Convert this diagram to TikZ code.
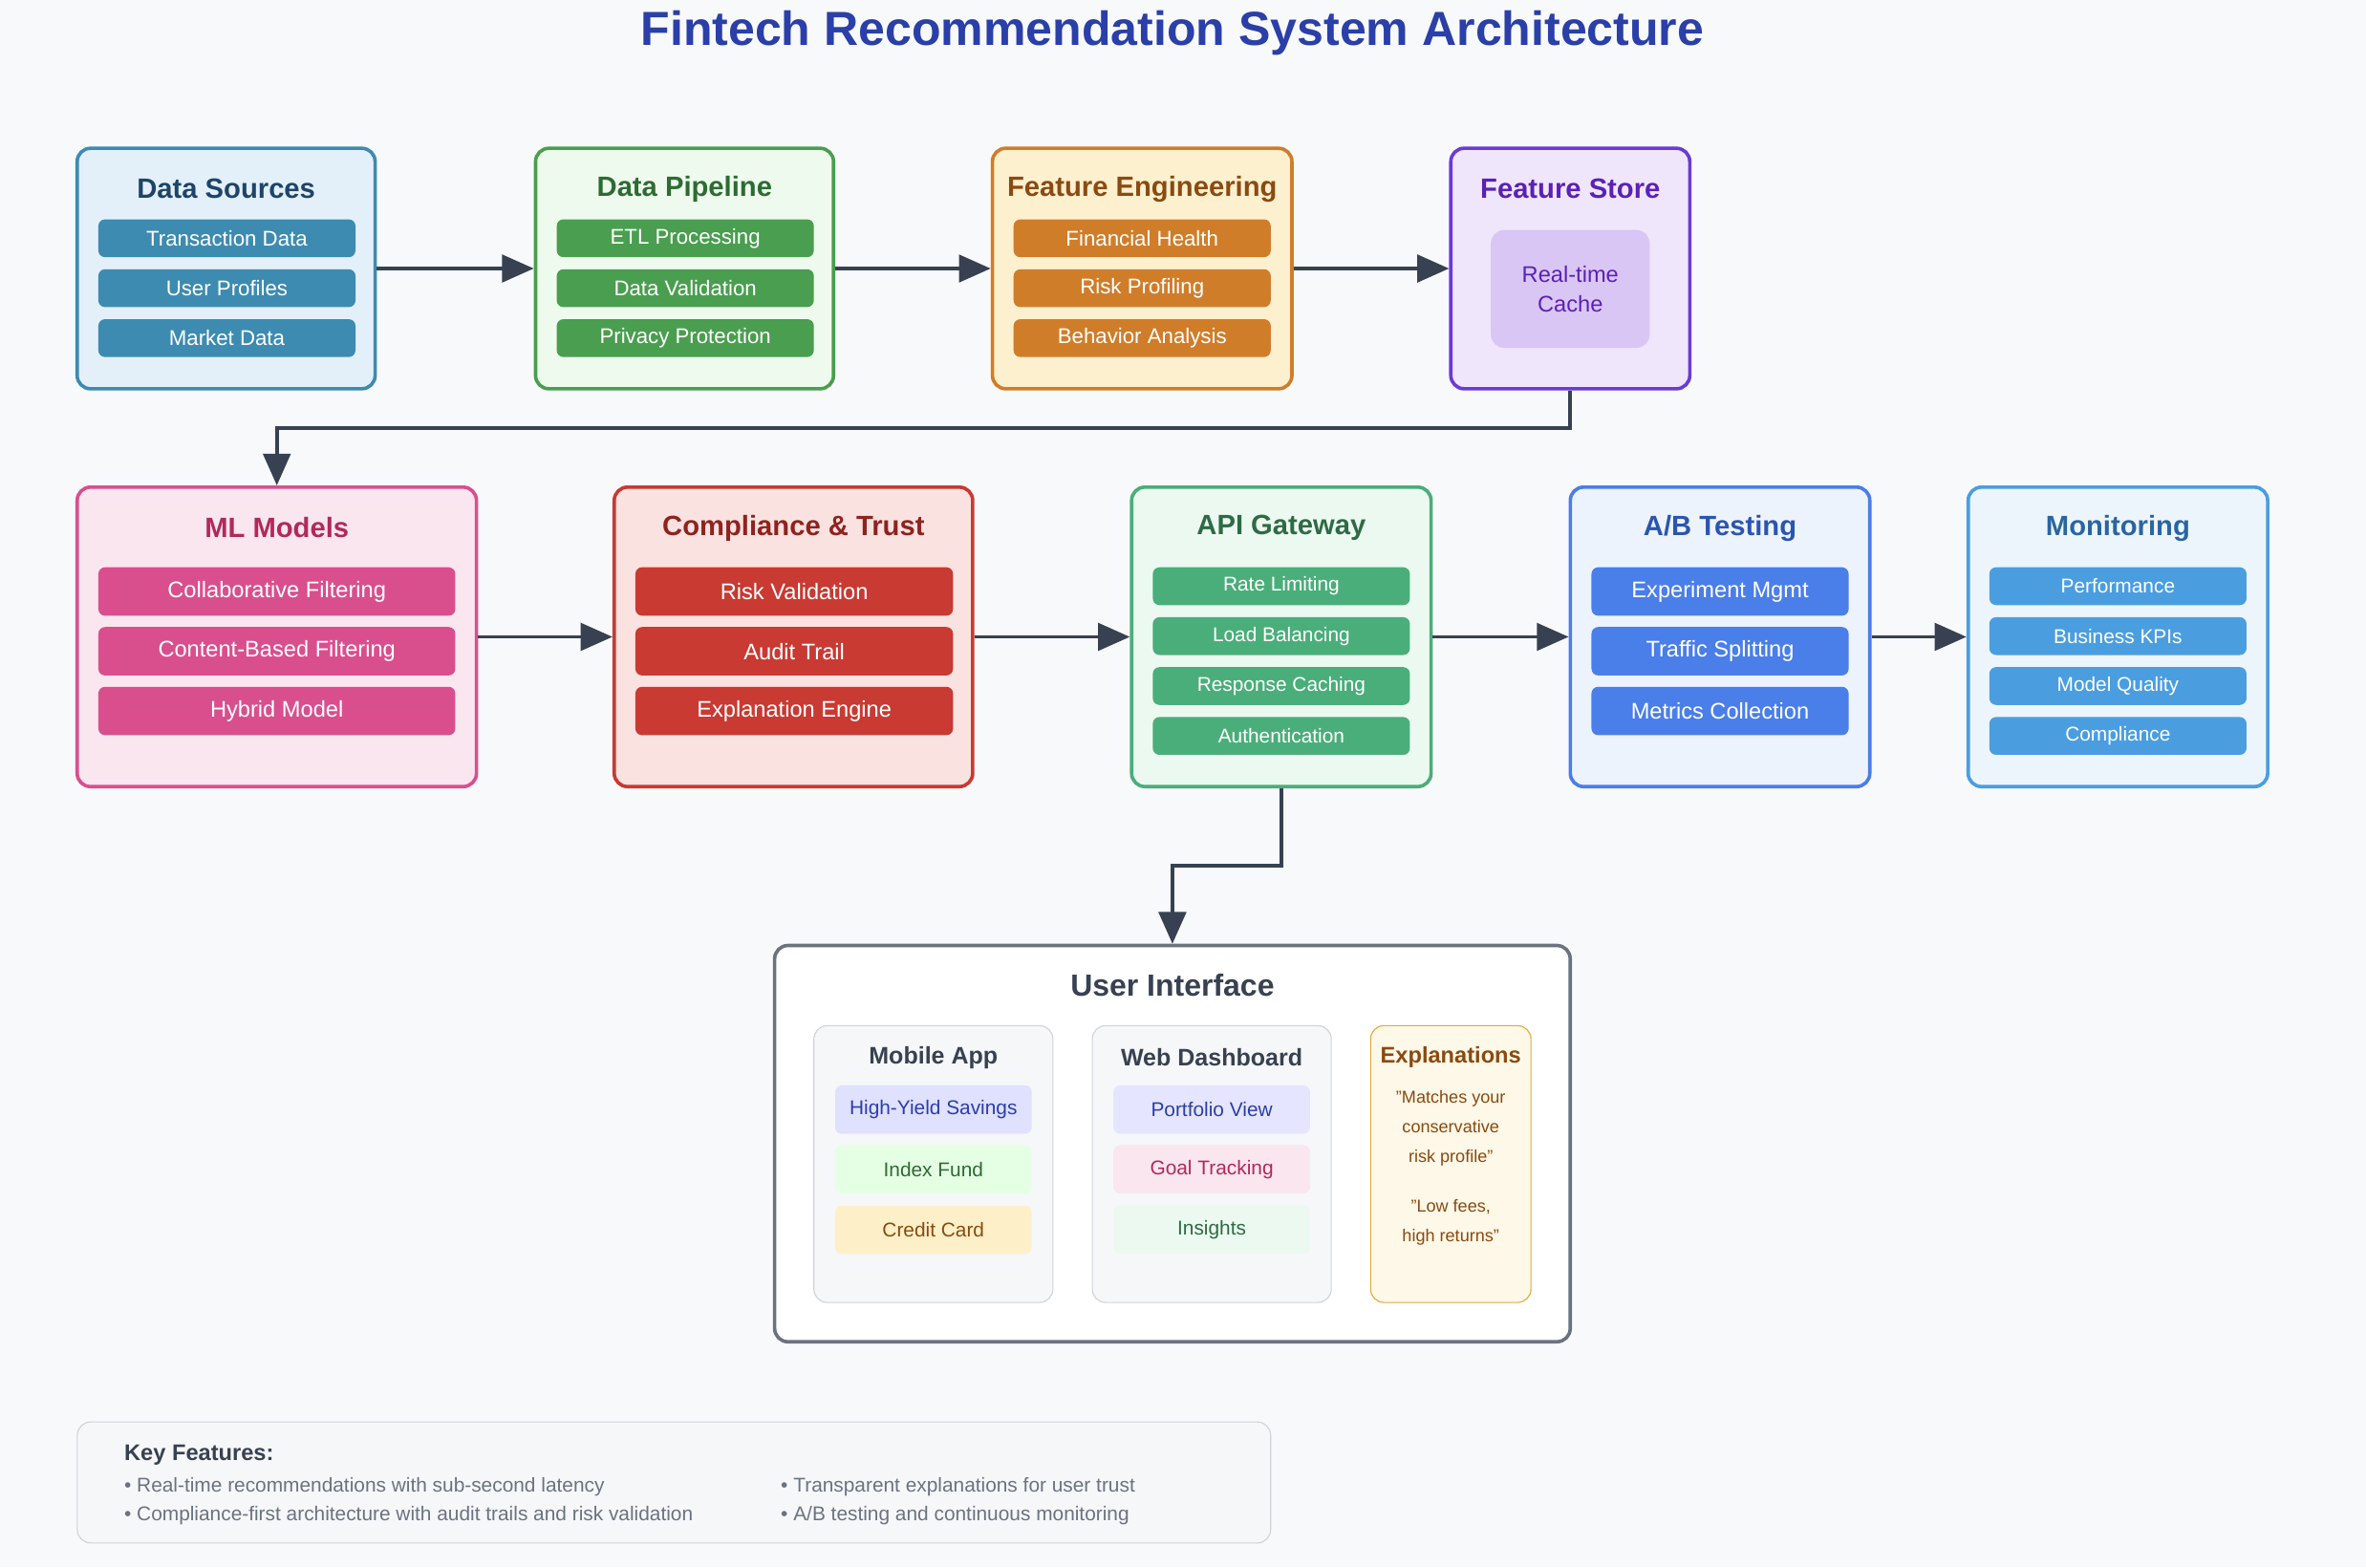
\documentclass[tikz,border=0pt]{standalone}
\usepackage{fontspec}
\setmainfont{Liberation Sans}
\usetikzlibrary{arrows.meta,positioning}
\definecolor{bg}{HTML}{F8F9FB}
\definecolor{ink}{HTML}{374151}
\definecolor{ttl}{HTML}{2A3FA8}
\definecolor{srcB}{HTML}{3D8BB0}\definecolor{srcF}{HTML}{E3F0FA}\definecolor{srcT}{HTML}{1F4468}
\definecolor{pipB}{HTML}{4A9E4F}\definecolor{pipF}{HTML}{EEFAEE}\definecolor{pipT}{HTML}{2E6B33}
\definecolor{feB}{HTML}{D07D2A}\definecolor{feF}{HTML}{FDF0CF}\definecolor{feT}{HTML}{8A4A10}
\definecolor{fsB}{HTML}{6A3BD6}\definecolor{fsF}{HTML}{F0E6FB}\definecolor{fsI}{HTML}{D9C6F5}\definecolor{fsT}{HTML}{5B21B6}
\definecolor{mlB}{HTML}{D94F8E}\definecolor{mlF}{HTML}{F9E6EF}\definecolor{mlT}{HTML}{B02A5A}
\definecolor{coB}{HTML}{C83A32}\definecolor{coF}{HTML}{F9E2E0}\definecolor{coT}{HTML}{8E2320}
\definecolor{apB}{HTML}{4AAE7A}\definecolor{apF}{HTML}{ECF9F0}\definecolor{apT}{HTML}{2E6B45}
\definecolor{abB}{HTML}{4A7EE8}\definecolor{abF}{HTML}{EDF3FD}\definecolor{abT}{HTML}{2A55B0}
\definecolor{moB}{HTML}{4A9EE0}\definecolor{moF}{HTML}{EDF5FC}\definecolor{moT}{HTML}{2A65A0}
\definecolor{uiB}{HTML}{6B7280}\definecolor{subF}{HTML}{F6F7F9}\definecolor{subB}{HTML}{CFD3D8}
\definecolor{exF}{HTML}{FEF8E8}\definecolor{exB}{HTML}{E8A83A}
\definecolor{ccF}{HTML}{FDF0C8}
\tikzset{
  panel/.style={draw, rounded corners=5pt, line width=1.3pt},
  bar/.style={rounded corners=2.5pt, text=white, font=\fontsize{8}{9}\selectfont, minimum width=3.4cm, minimum height=0.5cm, inner sep=0pt},
  wide/.style={bar, minimum height=0.64cm, font=\fontsize{8.5}{10}\selectfont},
  head/.style={font=\bfseries\fontsize{10.5}{12}\selectfont},
  chip/.style={rounded corners=2.5pt, minimum width=2.6cm, minimum height=0.64cm, inner sep=0pt, font=\fontsize{7.5}{9}\selectfont},
  flow/.style={draw=ink, line width=1.4pt, -{Triangle[length=0.42cm,width=0.36cm]}},
}
\begin{document}
\begin{tikzpicture}[x=0.02cm,y=-0.02cm]
\useasboundingbox[fill=bg] (0,0) rectangle (1564,1036);
\node[font=\bfseries\fontsize{18}{21}\selectfont, text=ttl] (title) at (775,22) {Fintech Recommendation System Architecture};

% row one
\node[panel, draw=srcB, fill=srcF, minimum width=3.94cm, minimum height=3.18cm] (src) at (149.5,177.5) {};
\node[head, text=srcT] at (149.5,125) {Data Sources};
\foreach \t/\y in {Transaction Data/157.5, User Profiles/190.5, Market Data/223.5}
  \node[bar, fill=srcB] at (150,\y) {\t};
\node[panel, draw=pipB, fill=pipF, minimum width=3.94cm, minimum height=3.18cm] (pipe) at (452.5,177.5) {};
\node[head, text=pipT] at (452.5,125) {Data Pipeline};
\foreach \t/\y in {ETL Processing/157.5, Data Validation/190.5, Privacy Protection/223.5}
  \node[bar, fill=pipB] at (453,\y) {\t};
\node[panel, draw=feB, fill=feF, minimum width=3.96cm, minimum height=3.18cm] (feat) at (755,177.5) {};
\node[head, text=feT] at (755,125) {Feature Engineering};
\foreach \t/\y in {Financial Health/157.5, Risk Profiling/190.5, Behavior Analysis/223.5}
  \node[bar, fill=feB] at (755,\y) {\t};
\node[panel, draw=fsB, fill=fsF, minimum width=3.16cm, minimum height=3.18cm] (store) at (1038,177.5) {};
\node[head, text=fsT] at (1038,125) {Feature Store};
\node[rounded corners=5pt, fill=fsI, text=fsT, minimum width=2.1cm, minimum height=1.56cm, align=center, font=\fontsize{8.5}{11}\selectfont] (cache) at (1038,191) {Real-time\\Cache};

% row two
\node[panel, draw=mlB, fill=mlF, minimum width=5.28cm, minimum height=3.96cm] (ml) at (183,421) {};
\node[head, text=mlT] at (183,349) {ML Models};
\foreach \t/\y in {Collaborative Filtering/391, Content-Based Filtering/430.5, Hybrid Model/470}
  \node[wide, fill=mlB, minimum width=4.72cm] at (183,\y) {\t};
\node[panel, draw=coB, fill=coF, minimum width=4.74cm, minimum height=3.96cm] (comp) at (524.5,421) {};
\node[head, text=coT] at (524.5,349) {Compliance \& Trust};
\foreach \t/\y in {Risk Validation/391, Audit Trail/430.5, Explanation Engine/470}
  \node[wide, fill=coB, minimum width=4.2cm] at (525,\y) {\t};
\node[panel, draw=apB, fill=apF, minimum width=3.96cm, minimum height=3.96cm] (api) at (847,421) {};
\node[head, text=apT] at (847,349) {API Gateway};
\foreach \t/\y in {Rate Limiting/387.5, Load Balancing/420.5, Response Caching/453.5, Authentication/486.5}
  \node[bar, fill=apB, font=\fontsize{7.5}{9}\selectfont] at (847,\y) {\t};
\node[panel, draw=abB, fill=abF, minimum width=3.96cm, minimum height=3.96cm] (ab) at (1137,421) {};
\node[head, text=abT] at (1137,349) {A/B Testing};
\foreach \t/\y in {Experiment Mgmt/391, Traffic Splitting/430.5, Metrics Collection/470}
  \node[wide, fill=abB, minimum width=3.4cm] at (1137,\y) {\t};
\node[panel, draw=moB, fill=moF, minimum width=3.96cm, minimum height=3.96cm] (mon) at (1400,421) {};
\node[head, text=moT] at (1400,349) {Monitoring};
\foreach \t/\y in {Performance/387.5, Business KPIs/420.5, Model Quality/453.5, Compliance/486.5}
  \node[bar, fill=moB, font=\fontsize{7.5}{9}\selectfont] at (1400,\y) {\t};

% user interface
\node[panel, draw=uiB, fill=white, minimum width=10.52cm, minimum height=5.24cm] (ui) at (775,756) {};
\node[font=\bfseries\fontsize{11.5}{13}\selectfont, text=ink] at (775,651) {User Interface};
\node[draw=subB, fill=subF, rounded corners=5pt, minimum width=3.16cm, minimum height=3.66cm] (mob) at (617,769.5) {};
\node[font=\bfseries\fontsize{9}{11}\selectfont, text=ink] at (617,699) {Mobile App};
\node[chip, fill=blue!12, text=ttl] at (617,733.5) {High-Yield Savings};
\node[chip, fill=green!10, text=pipT] at (617,773) {Index Fund};
\node[chip, fill=ccF, text=feT] at (617,813) {Credit Card};
\node[draw=subB, fill=subF, rounded corners=5pt, minimum width=3.16cm, minimum height=3.66cm] (web) at (801,769.5) {};
\node[font=\bfseries\fontsize{9}{11}\selectfont, text=ink] at (801,699) {Web Dashboard};
\node[chip, fill=blue!10, text=ttl] at (801,733.5) {Portfolio View};
\node[chip, fill=mlF, text=mlT] at (801,773) {Goal Tracking};
\node[chip, fill=apF, text=apT] at (801,813) {Insights};
\node[draw=exB, fill=exF, rounded corners=5pt, minimum width=2.12cm, minimum height=3.66cm] (expl) at (959,769.5) {};
\node[font=\bfseries\fontsize{8.5}{10}\selectfont, text=feT] at (959,699) {Explanations};
\node[text=feT, align=center, font=\fontsize{6.5}{11.2}\selectfont] at (959,746) {"Matches your\\conservative\\risk profile"};
\node[text=feT, align=center, font=\fontsize{6.5}{11.2}\selectfont] at (959,808) {"Low fees,\\high returns"};

% key features
\node[draw=subB, fill=subF, rounded corners=5pt, minimum width=15.78cm, minimum height=1.6cm] (keys) at (445.5,980) {};
\node[anchor=west, font=\bfseries\fontsize{8.5}{10}\selectfont, text=ink] at (76,962) {Key Features:};
\begin{scope}[every node/.style={anchor=west, text=uiB, font=\fontsize{7.5}{9}\selectfont}]
\node at (76,983) {• Real-time recommendations with sub-second latency};
\node at (76,1002) {• Compliance-first architecture with audit trails and risk validation};
\node at (510,983) {• Transparent explanations for user trust};
\node at (510,1002) {• A/B testing and continuous monitoring};
\end{scope}

% connectors
\draw[flow] (src) -- (pipe);
\draw[flow] (pipe) -- (feat);
\draw[flow] (feat) -- (store);
\draw[flow] (store.south) |- (600,283) -| (ml.north);
\draw[flow] (ml) -- (comp);
\draw[flow] (comp) -- (api);
\draw[flow] (api) -- (ab);
\draw[flow] (ab) -- (mon);
\draw[flow] (api.south) |- (800,572) -| (ui.north);
\end{tikzpicture}
\end{document}
